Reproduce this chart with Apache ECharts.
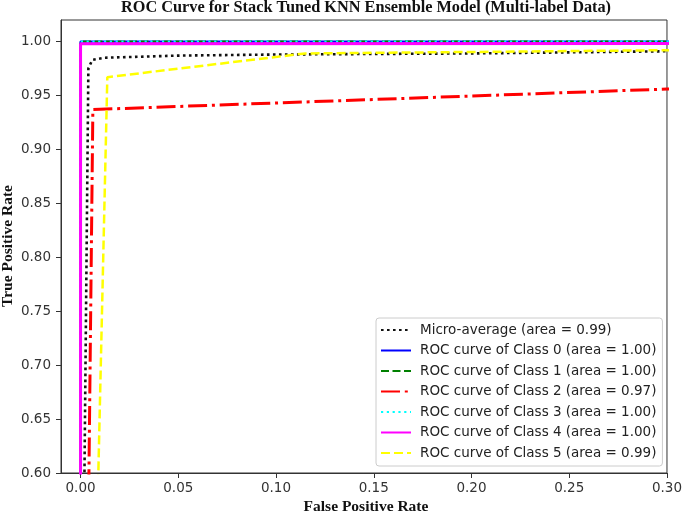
<!DOCTYPE html>
<html>
<head>
<meta charset="utf-8">
<script src="https://cdn.jsdelivr.net/npm/echarts@6/dist/echarts.min.js"></script>
<style>
  html, body { margin: 0; padding: 0; background: #fff; }
  #chart { width: 685px; height: 513px; }
</style>
</head>
<body>
<div id="chart"></div>
<script>
// tick labels
const xTicks = [0.00, 0.05, 0.10, 0.15, 0.20, 0.25, 0.30]
const yTicks = [0.60, 0.65, 0.70, 0.75, 0.80, 0.85, 0.90, 0.95, 1.00]

// ROC points [fpr, tpr]
const microAvg = [[0, 0], [0.002, 0.6], [0.004, 0.975], [0.006, 0.983], [0.012, 0.985],
                  [0.05, 0.987], [0.1, 0.988], [0.2, 0.989], [0.3, 0.991], [1, 1]]
const class0 = [[0, 0], [0, 1], [1, 1]]
const class1 = [[0, 0], [0, 1], [1, 1]]
const class2 = [[0, 0], [0.004, 0.55], [0.0063, 0.937], [0.3, 0.956], [1, 1]]
const class3 = [[0, 0], [0, 1], [1, 1]]
const class4 = [[0, 0], [0, 0.998], [1, 0.999]]
const class5 = [[0, 0], [0.0091, 0.6], [0.0137, 0.967], [0.115, 0.989], [0.3, 0.992], [1, 1]]

const names = [
    'Micro-average (area = 0.99)',
    'ROC curve of Class 0 (area = 1.00)',
    'ROC curve of Class 1 (area = 1.00)',
    'ROC curve of Class 2 (area = 0.97)',
    'ROC curve of Class 3 (area = 1.00)',
    'ROC curve of Class 4 (area = 1.00)',
    'ROC curve of Class 5 (area = 0.99)'
]

let chart = echarts.init(document.getElementById('chart'), null, {renderer: 'canvas'})

function lineSeries(name, data, color, width, dash) {
    return {
        name: name,
        type: 'line',
        data: data,
        symbol: 'none',
        clip: true,
        animation: false,
        lineStyle: {color: color, width: width, type: dash, cap: 'butt'},
        itemStyle: {color: color}
    }
}

const sans = 'DejaVu Sans'

chart.setOption({
    animation: false,
    grid: {
        left: 61, right: 14, top: 20, bottom: 40,
        show: true, borderColor: '#333', borderWidth: 1, backgroundColor: '#fff'
    },
    xAxis: {
        type: 'value',
        min: -0.01,
        max: 0.30,
        axisLine: {show: true, onZero: false, lineStyle: {color: '#333', width: 1}},
        axisTick: {show: true, length: 5, lineStyle: {color: '#333'}, customValues: xTicks},
        axisLabel: {
            color: '#333', fontFamily: sans, fontSize: 13.5, margin: 8,
            customValues: xTicks,
            formatter: v => v.toFixed(2)
        },
        splitLine: {show: false}
    },
    yAxis: {
        type: 'value',
        min: 0.60,
        max: 1.02,
        axisLine: {show: true, onZero: false, lineStyle: {color: '#333', width: 1}},
        axisTick: {show: true, length: 5, lineStyle: {color: '#333'}, customValues: yTicks},
        axisLabel: {
            color: '#333', fontFamily: sans, fontSize: 13.5, margin: 10,
            customValues: yTicks,
            formatter: v => v.toFixed(2)
        },
        splitLine: {show: false}
    },
    legend: {
        orient: 'vertical',
        left: 376, top: 318,
        padding: [5, 6, 6, 4],
        itemWidth: 30, itemHeight: 14, itemGap: 6.5,
        backgroundColor: '#fff',
        borderColor: '#ccc', borderWidth: 1, borderRadius: 3,
        itemStyle: {opacity: 0},
        textStyle: {fontFamily: sans, fontSize: 13.5, color: '#222', padding: [0, 0, 0, 4]},
        data: names
    },
    graphic: [
        {
            type: 'text', x: 366, y: 7.5,
            style: {
                text: 'ROC Curve for Stack Tuned KNN Ensemble Model (Multi-label Data)',
                font: 'bold 16.3px "Liberation Serif"', fill: '#111',
                textAlign: 'center', textVerticalAlign: 'middle'
            }
        },
        {
            type: 'text', x: 366, y: 507,
            style: {
                text: 'False Positive Rate',
                font: 'bold 15.5px "Liberation Serif"', fill: '#111',
                textAlign: 'center', textVerticalAlign: 'middle'
            }
        },
        {
            type: 'text', x: 7.5, y: 246, rotation: Math.PI / 2,
            style: {
                text: 'True Positive Rate',
                font: 'bold 15.5px "Liberation Serif"', fill: '#111',
                textAlign: 'center', textVerticalAlign: 'middle'
            }
        }
    ],
    series: [
        lineSeries(names[0], microAvg, '#111', 2.6, [2.6, 3.4]),
        lineSeries(names[1], class0, '#0000ff', 2.2, 'solid'),
        lineSeries(names[2], class1, '#008000', 2.2, [8, 3.5]),
        lineSeries(names[3], class2, '#ff0000', 3, [19, 4.8, 3, 4.8]),
        lineSeries(names[4], class3, '#00ffff', 2.2, [2.2, 3.6]),
        lineSeries(names[5], class4, '#ff00ff', 3, 'solid'),
        lineSeries(names[6], class5, '#ffff00', 2.5, [9, 4])
    ]
})
</script>
</body>
</html>
